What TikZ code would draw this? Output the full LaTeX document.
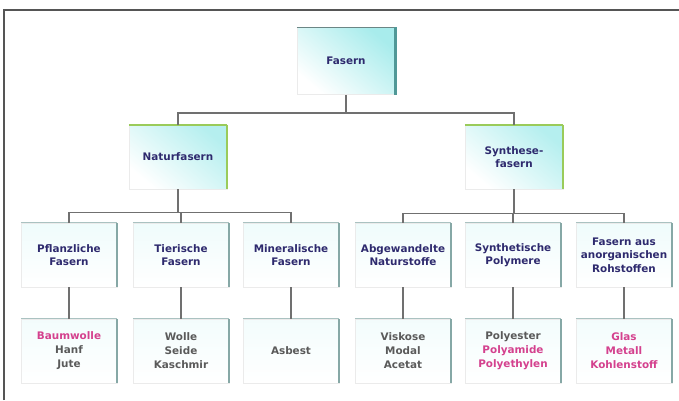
\documentclass[tikz,border=0pt]{standalone}
\usepackage{fontspec}
\newfontfamily\boxfont{DejaVu Sans}
\definecolor{navy}{HTML}{2E2A6E}
\definecolor{txtgray}{HTML}{5A5A5A}
\definecolor{pinktxt}{HTML}{D4418E}
\definecolor{edgeteal}{HTML}{86A8A6}
\definecolor{edgegreen}{HTML}{9ACB5A}
\definecolor{topcyan}{HTML}{A8ECEC}
\definecolor{linegray}{HTML}{707070}
\definecolor{framegray}{HTML}{555555}
\begin{document}
\begin{tikzpicture}[x=1pt,y=-1pt,
  base/.style={minimum width=96pt,minimum height=64pt,inner sep=0pt,align=center,
    font=\boxfont\bfseries\fontsize{10.4}{13.5}\selectfont},
  head/.style={base,text=navy,draw=black!8,line width=0.5pt},
  lvl/.style={head,top color=topcyan!18,bottom color=white},
  leaf/.style={base,text=txtgray,draw=black!8,line width=0.5pt,top color=topcyan!14,bottom color=white,
    font=\boxfont\bfseries\fontsize{10.4}{14}\selectfont},
  topbox/.style={head,minimum width=98pt,minimum height=67pt,top color=topcyan,bottom color=white,shading angle=-40},
  midbox/.style={head,minimum width=98pt,minimum height=64pt,top color=topcyan!85,bottom color=white,shading angle=-40},
  conn/.style={draw=linegray,line width=1.5pt}]
\useasboundingbox (0,0) rectangle (679,400);
\fill[white] (0,0) rectangle (679,400);
\draw[framegray,line width=1.8pt] (4,400) -- (4,10) -- (679,10);

% nodes
\node[topbox] (F) at (346,61) {Fasern};
\node[midbox] (N) at (178,157) {Naturfasern};
\node[midbox] (S) at (514,157) {Synthese-\\fasern};

\node[lvl] (P) at (69,255) {Pflanzliche\\Fasern};
\node[lvl] (T) at (181,255) {Tierische\\Fasern};
\node[lvl] (M) at (291,255) {Mineralische\\Fasern};
\node[lvl] (A) at (403,255) {Abgewandelte\\Naturstoffe};
\node[lvl] (Y) at (513,255) {Synthetische\\Polymere};
\node[lvl] (R) at (624,255) {Fasern aus\\anorganischen\\Rohstoffen};

\node[leaf] (P2) at (69,351) {\textcolor{pinktxt}{Baumwolle}\\Hanf\\Jute};
\node[leaf] (T2) at (181,351) {Wolle\\Seide\\Kaschmir};
\node[leaf] (M2) at (291,351) {Asbest};
\node[leaf] (A2) at (403,351) {Viskose\\Modal\\Acetat};
\node[leaf] (Y2) at (513,351) {Polyester\\\textcolor{pinktxt}{Polyamide}\\\textcolor{pinktxt}{Polyethylen}};
\node[leaf,text=pinktxt] (R2) at (624,351) {Glas\\Metall\\Kohlenstoff};

% 3D edges (top and right)
\foreach \n in {P,T,M,A,Y,R,P2,T2,M2,A2,Y2,R2}{
  \draw[edgeteal!70,line width=1.3pt] (\n.north west) -- (\n.north east);
  \draw[edgeteal,line width=2pt] (\n.north east) -- (\n.south east);
}
\draw[edgeteal!80!black,line width=1.5pt] (F.north west) -- (F.north east);
\draw[edgeteal!60!teal,line width=2.5pt] (F.north east) -- (F.south east);
\foreach \n in {N,S}{
  \draw[edgegreen,line width=1.5pt] (\n.north west) -- (\n.north east);
  \draw[edgegreen,line width=2.2pt] (\n.north east) -- (\n.south east);
}

% connectors
\draw[conn] (F.south) -- ++(0,18) coordinate (fj) -| (N.north);
\draw[conn] (fj) -| (S.north);
\draw[conn] (N.south) -- ++(0,23) coordinate (nj) -| (P.north);
\draw[conn] (nj) -| (T.north);
\draw[conn] (nj) -| (M.north);
\draw[conn] (S.south) -- ++(0,24) coordinate (sj) -| (A.north);
\draw[conn] (sj) -| (Y.north);
\draw[conn] (sj) -| (R.north);
\foreach \a/\b in {P/P2,T/T2,M/M2,A/A2,Y/Y2,R/R2}{
  \draw[conn] (\a.south) -- (\b.north);
}
\end{tikzpicture}
\end{document}
